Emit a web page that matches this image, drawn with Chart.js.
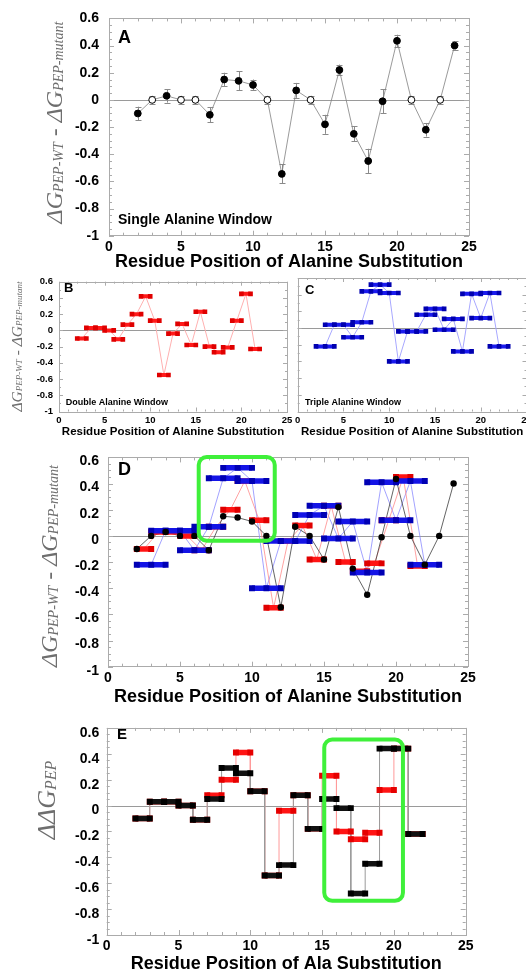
<!DOCTYPE html>
<html><head><meta charset="utf-8">
<script src="https://cdn.jsdelivr.net/npm/chart.js@4.4.1/dist/chart.umd.min.js"></script>
<style>
html,body{margin:0;padding:0;background:#fff;width:526px;height:973px;overflow:hidden;position:relative}
canvas{position:absolute}
</style></head><body>
<canvas id="cA" width="526" height="280" style="left:0px;top:0px"></canvas>
<canvas id="cB" width="300" height="170" style="left:0px;top:270px"></canvas>
<canvas id="cC" width="270" height="170" style="left:290px;top:270px"></canvas>
<canvas id="cD" width="526" height="270" style="left:0px;top:440px"></canvas>
<canvas id="cE" width="526" height="270" style="left:0px;top:712px"></canvas>
<script>
// ---------------- DATA ----------------
const xTickValues = [0, 5, 10, 15, 20, 25];
const yTickValues = [-1, -0.8, -0.6, -0.4, -0.2, 0, 0.2, 0.4, 0.6];

// Panel A: single alanine window
const singleResidues = [2,3,4,5,6,7,8,9,10,11,12,13,14,15,16,17,18,19,20,21,22,23,24];
const singleDDG = [-0.10,0.00,0.03,0.00,0.00,-0.11,0.15,0.14,0.11,0.00,-0.545,0.07,0.00,-0.18,0.22,-0.25,-0.45,-0.01,0.435,0.00,-0.22,0.00,0.40];
const singleErr = [0.05,0.03,0.05,0.03,0.03,0.055,0.05,0.07,0.04,0.03,0.07,0.055,0.03,0.07,0.04,0.055,0.09,0.09,0.045,0.03,0.05,0.03,0.03];
const openResidues = [3,5,6,11,14,21,23];

// Panel B: double alanine window (first residue of each pair)
const doubleStart = [2,3,4,5,6,7,8,9,10,11,12,13,14,15,16,17,18,19,20,21];
const doubleDDG = [-0.10,0.03,0.03,0.00,-0.11,0.07,0.20,0.42,0.12,-0.55,-0.04,0.08,-0.18,0.23,-0.20,-0.27,-0.21,0.12,0.45,-0.23];

// Panel C: triple alanine window (first residue of each triple)
const tripleStart = [2,3,4,5,6,7,8,9,10,11,12,13,14,15,16,17,18,19,20,21];
const tripleDDG = [-0.22,0.04,0.04,-0.11,0.07,0.44,0.52,0.42,-0.40,-0.04,-0.04,0.16,0.23,-0.02,0.11,-0.28,0.41,0.12,0.42,-0.22];

// Panel E: pairs, sum of singles (black) vs measured double (red)
const pairStart = [2,3,4,5,6,7,8,9,10,11,12,13,14,15,16,17,18,19,20,21];
const pairSumDDG = [-0.10,0.03,0.03,0.00,-0.11,0.05,0.29,0.25,0.11,-0.54,-0.46,0.08,-0.18,0.05,-0.02,-0.68,-0.45,0.44,0.44,-0.22];
const pairMeasuredDDG = [-0.10,0.03,0.03,0.00,-0.11,0.08,0.20,0.41,0.11,-0.54,-0.04,0.08,-0.18,0.23,-0.20,-0.26,-0.21,0.12,0.44,-0.22];

// highlight boxes (data coordinates)
const boxD = {x0: 6.3, x1: 11.58, y0: -0.037, y1: 0.603};
const boxE = {x0: 15.15, x1: 20.63, y0: -0.736, y1: 0.51};

// ---------------- HELPERS ----------------
Chart.defaults.font.family = "'Liberation Sans', Arial, Helvetica, sans-serif";
Chart.defaults.color = '#000';
const FRAME = '#ababab';

function barPoints(starts, vals, span){
  const pts = [];
  starts.forEach((s,i)=>{
    for(let k=0;k<=span;k++) pts.push({x:s+k, y:vals[i]});
    pts.push({x:s+span, y:null});
  });
  return pts;
}
function centerPoints(starts, vals, span){ return starts.map((s,i)=>({x:s+span/2, y:vals[i]})); }
function stepPoints(starts, vals){ const p=[]; starts.forEach((s,i)=>{p.push({x:s,y:vals[i]});p.push({x:s+1,y:vals[i]});}); return p; }

function barSet(pts, lineColor, ptColor, bw, r, order){
  return {data:pts, showLine:true, borderColor:lineColor, borderWidth:bw, borderCapStyle:'butt',
    pointStyle:'rect', pointRadius:r, pointBackgroundColor:ptColor, pointBorderWidth:0, spanGaps:false, order};
}
function thinSet(pts, color, w, order){
  return {data:pts, showLine:true, borderColor:color, borderWidth:w, pointRadius:0, order};
}

function axes(c){
  return {
    x:{type:'linear', min:0, max:25,
      afterBuildTicks(s){ s.ticks = xTickValues.map(v=>({value:v})); },
      afterFit(s){ s.height = c.xH; },
      grid:{display:false, drawTicks:false}, border:{display:false},
      ticks:{font:{size:c.tick, weight:'bold'}, padding:c.xPad, maxRotation:0, autoSkip:false, color:'#000', callback:v=>String(v)},
      title:{display:true, text:c.xTitle, color:'#000', font:{size:c.title, weight:'bold'}, padding:{top:0, bottom:c.titlePad}}
    },
    y:{type:'linear', min:-1, max:0.6,
      afterBuildTicks(s){ s.ticks = yTickValues.map(v=>({value:v})); },
      afterFit(s){ s.width = c.yW; },
      grid:{display:false, drawTicks:false}, border:{display:false},
      ticks:{display:c.yLabels!==false, font:{size:c.tick, weight:'bold'}, padding:c.yPad, labelOffset:c.yOff||0, color:'#000',
        callback:v=>String(Math.round(v*10)/10)}
    }
  };
}

function decor(c){
  return {
    id:'decor',
    beforeDatasetsDraw(chart){
      const {ctx, chartArea:a, scales:{x,y}} = chart;
      ctx.save();
      ctx.strokeStyle = FRAME; ctx.lineWidth = 1;
      ctx.strokeRect(Math.round(a.left)+0.5, Math.round(a.top)+0.5, Math.round(a.width), Math.round(a.height));
      const z = Math.round(y.getPixelForValue(0))+0.5;
      ctx.strokeStyle = '#9a9a9a';
      ctx.beginPath(); ctx.moveTo(a.left, z); ctx.lineTo(a.right, z); ctx.stroke();
      ctx.strokeStyle = FRAME;
      ctx.beginPath();
      for(let v=0; v<=25; v++){
        const px = Math.round(x.getPixelForValue(v))+0.5;
        const L = (v%5===0)? c.tMaj : c.tMin;
        ctx.moveTo(px, a.bottom); ctx.lineTo(px, a.bottom-L);
        ctx.moveTo(px, a.top); ctx.lineTo(px, a.top+L);
      }
      const n = Math.round(1.6/c.yMinor);
      for(let i=0;i<=n;i++){
        const v = -1 + i*c.yMinor;
        const py = Math.round(y.getPixelForValue(v))+0.5;
        const maj = Math.abs(Math.round(v*5)-v*5) < 1e-6;
        const L = maj ? c.tMaj : c.tMin;
        ctx.moveTo(a.left, py); ctx.lineTo(a.left+L, py);
        ctx.moveTo(a.right, py); ctx.lineTo(a.right-L, py);
      }
      ctx.stroke();
      if(c.err){
        ctx.strokeStyle = '#8a8a8a'; ctx.lineWidth = 1;
        ctx.beginPath();
        c.err.xs.forEach((xv,i)=>{
          const px = Math.round(x.getPixelForValue(xv))+0.5;
          const yt = y.getPixelForValue(c.err.ys[i]+c.err.es[i]);
          const yb = y.getPixelForValue(c.err.ys[i]-c.err.es[i]);
          ctx.moveTo(px, yt); ctx.lineTo(px, yb);
          ctx.moveTo(px-3, Math.round(yt)+0.5); ctx.lineTo(px+3, Math.round(yt)+0.5);
          ctx.moveTo(px-3, Math.round(yb)+0.5); ctx.lineTo(px+3, Math.round(yb)+0.5);
        });
        ctx.stroke();
      }
      ctx.restore();
    },
    afterDatasetsDraw(chart){
      if(!c.box) return;
      const {ctx, scales:{x,y}} = chart;
      const b = c.box;
      const l = x.getPixelForValue(b.x0), r = x.getPixelForValue(b.x1);
      const t = y.getPixelForValue(b.y1), bt = y.getPixelForValue(b.y0);
      ctx.save();
      ctx.strokeStyle = '#3ff03a'; ctx.lineWidth = 4;
      ctx.beginPath(); ctx.roundRect(l, t, r-l, bt-t, 8); ctx.stroke();
      ctx.restore();
    },
    afterDraw(chart){
      const ctx = chart.ctx;
      ctx.save();
      ctx.fillStyle = '#000'; ctx.textAlign = 'left'; ctx.textBaseline = 'middle';
      (c.labels||[]).forEach(L=>{
        ctx.font = `bold ${L.size}px 'Liberation Sans', Arial, sans-serif`;
        ctx.fillText(L.t, L.x, L.y);
      });
      ctx.restore();
      if(c.yt){
        const o = c.yt;
        ctx.save();
        ctx.translate(o.x, o.y); ctx.rotate(-Math.PI/2);
        ctx.fillStyle = '#6e6e6e'; ctx.textBaseline = 'alphabetic'; ctx.textAlign = 'left';
        const fnt = p => `italic ${p.sub?o.sub:o.main}px 'Liberation Serif','Times New Roman',serif`;
        let total = 0; const w = [];
        o.parts.forEach(p=>{ ctx.font = fnt(p); const m = ctx.measureText(p.t).width; w.push(m); total += m; });
        let cx = -total/2;
        o.parts.forEach((p,i)=>{ ctx.font = fnt(p); ctx.fillText(p.t, cx, p.sub? o.shift : 0); cx += w[i]; });
        ctx.restore();
      }
    }
  };
}

const ytParts = [{t:'ΔG'},{t:'PEP-WT',sub:true},{t:' - '},{t:'ΔG'},{t:'PEP-mutant',sub:true}];
const baseOpts = {responsive:false, animation:false, devicePixelRatio:1, events:[],
  plugins:{legend:{display:false}, tooltip:{enabled:false}}};

function make(id, datasets, c){
  return new Chart(document.getElementById(id), {
    type:'scatter',
    data:{datasets},
    options:Object.assign({}, baseOpts, {layout:{padding:c.pad}, scales:axes(c)}),
    plugins:[decor(c)]
  });
}

// ---------------- PANEL A ----------------
make('cA', [
  {data:singleResidues.map((r,i)=>({x:r,y:singleDDG[i]})), showLine:true, borderColor:'#808080', borderWidth:0.8,
   pointRadius:3.4, pointBorderWidth:1, pointBorderColor:'#000',
   pointBackgroundColor:singleResidues.map(r=>openResidues.includes(r)?'#fff':'#000'), order:1}
], {pad:{top:18.3,right:57,left:0,bottom:0}, xH:44.3, yW:109, tick:14, title:18, xPad:3, yPad:10,
  titlePad:7.2, xTitle:'Residue Position of Alanine Substitution', tMaj:5, tMin:3, yMinor:0.05,
  err:{xs:singleResidues, ys:singleDDG, es:singleErr},
  labels:[{t:'A',x:118,y:37.7,size:18},{t:'Single Alanine Window',x:118,y:220,size:14}],
  yt:{x:61.5,y:122.5,main:24,sub:14,shift:1,parts:ytParts}});

// ---------------- PANEL B ----------------
make('cB', [
  thinSet(centerPoints(doubleStart,doubleDDG,1), '#ffb0b0', 1, 5),
  barSet(barPoints(doubleStart,doubleDDG,1), '#ff1a1a', '#e00000', 4, 3.3, 2)
], {pad:{top:8,right:13,left:0,bottom:0}, xH:28.5, yW:59, tick:9.5, title:11.5, xPad:3, yPad:6,
  titlePad:0.8, xTitle:'Residue Position of Alanine Substitution', tMaj:4, tMin:2, yMinor:0.1,
  labels:[{t:'B',x:64,y:18,size:13},{t:'Double Alanine Window',x:65.7,y:133,size:9}],
  yt:{x:21.5,y:76.5,main:15.5,sub:9,shift:0.5,parts:ytParts}});

// ---------------- PANEL C ----------------
make('cC', [
  thinSet(centerPoints(tripleStart,tripleDDG,2), '#a8a8ff', 1, 5),
  barSet(barPoints(tripleStart,tripleDDG,2), '#1a1aee', '#0000b0', 4, 3.3, 2)
], {pad:{top:8,right:33.5,left:0,bottom:0}, xH:28.5, yW:7.7, yLabels:false, tick:9.5, title:11.5, xPad:3, yPad:6,
  titlePad:0.8, xTitle:'Residue Position of Alanine Substitution', tMaj:4, tMin:2, yMinor:0.1,
  labels:[{t:'C',x:15,y:20,size:13},{t:'Triple Alanine Window',x:15,y:132.7,size:9}]});

// ---------------- PANEL D ----------------
make('cD', [
  {data:singleResidues.map((r,i)=>({x:r,y:singleDDG[i]})), showLine:false, pointRadius:3.2, pointBorderWidth:0,
   pointBackgroundColor:'#000', order:1},
  barSet(barPoints(tripleStart,tripleDDG,2), '#1414e6', '#0000b4', 5.5, 4.2, 2),
  barSet(barPoints(doubleStart,doubleDDG,1), '#ff1414', '#e00000', 5.5, 4.2, 3),
  thinSet(singleResidues.map((r,i)=>({x:r,y:singleDDG[i]})), '#3c3c3c', 0.8, 6),
  thinSet(centerPoints(doubleStart,doubleDDG,1), '#ff8a8a', 0.8, 7),
  thinSet(centerPoints(tripleStart,tripleDDG,2), '#8a8aff', 0.8, 8)
], {pad:{top:11.7,right:58,left:0,bottom:0}, xH:43.3, yW:108, tick:14, title:18, xPad:3, yPad:9, yOff:4,
  titlePad:2.5, xTitle:'Residue Position of Alanine Substitution', tMaj:5, tMin:3, yMinor:0.05, box:boxD,
  labels:[{t:'D',x:118,y:30,size:18}],
  yt:{x:56.5,y:126,main:24,sub:14,shift:1,parts:ytParts}});

// ---------------- PANEL E ----------------
make('cE', [
  barSet(barPoints(pairStart,pairSumDDG,1), '#111', '#000', 5.5, 4.2, 1),
  barSet(barPoints(pairStart,pairMeasuredDDG,1), '#ff1414', '#e60000', 5.5, 4.2, 2),
  thinSet(stepPoints(pairStart,pairSumDDG), '#9a9a9a', 1, 5),
  thinSet(stepPoints(pairStart,pairMeasuredDDG), '#ff9a9a', 1, 6)
], {pad:{top:6.3,right:60.3,left:0,bottom:0}, xH:47, yW:106.7, tick:14, title:18, xPad:3, yPad:7.5, yOff:5,
  titlePad:6.9, xTitle:'Residue Position of Ala Substitution', tMaj:5, tMin:3, yMinor:0.05, box:boxE,
  labels:[{t:'E',x:117,y:23,size:15}],
  yt:{x:55,y:88,main:26,sub:16,shift:1,parts:[{t:'ΔΔG'},{t:'PEP',sub:true}]}});
</script>
</body></html>
